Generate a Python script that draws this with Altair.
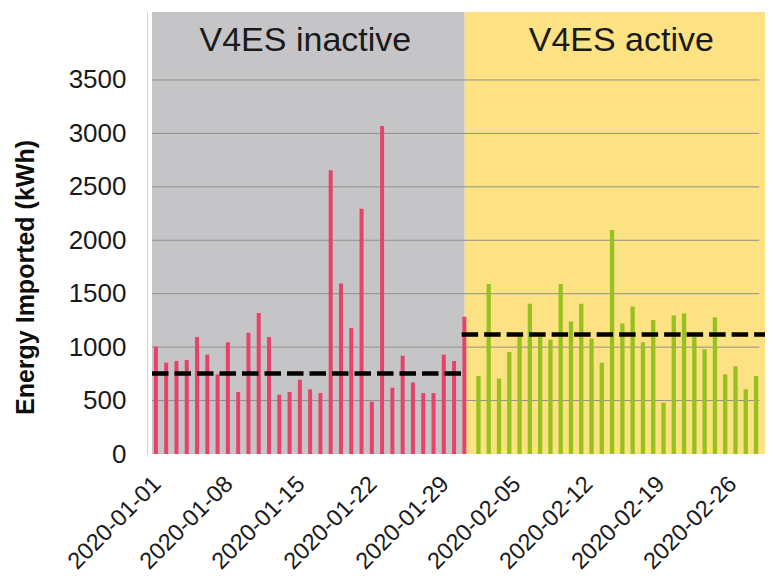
import altair as alt
import pandas as pd

# ---------------- data ----------------
dates = pd.date_range("2020-01-01", "2020-02-28", freq="D")

inactive_values = [1005, 855, 870, 880, 1095, 930, 745, 1045, 580, 1135, 1320,
                   1095, 555, 580, 695, 605, 570, 2655, 1595, 1180, 2295, 490,
                   3070, 620, 920, 670, 570, 570, 930, 870, 1285]
active_values = [730, 1590, 705, 955, 1100, 1405, 1100, 1070, 1590, 1240, 1405,
                 1080, 855, 2095, 1220, 1380, 1045, 1255, 480, 1295, 1315, 1100,
                 980, 1280, 745, 820, 605, 730]

phase_labels = ["V4ES inactive", "V4ES active"]
phase_means = [754, 1119]
bar_colors = ["#e5436a", "#96c11f"]
bg_colors = ["#c5c5c7", "#fde283"]

tick_days = [0, 7, 14, 21, 28, 35, 42, 49, 56]
tick_labels = ["2020-01-01", "2020-01-08", "2020-01-15", "2020-01-22",
               "2020-01-29", "2020-02-05", "2020-02-12", "2020-02-19",
               "2020-02-26"]
y_ticks = [0, 500, 1000, 1500, 2000, 2500, 3000, 3500]

# ---------------- layout constants ----------------
X_MIN, X_MAX = -0.565, 58.57
BG_END = 59.34
BOUNDARY = 29.85
ACTIVE_DASH_START = 29.55
GRID_END = 58.5
Y_TOP = 4136
LABEL_Y = 3767
FONT = "Liberation Sans"

n_in = len(inactive_values)
bars = pd.DataFrame({
    "day": list(range(len(dates))),
    "date": dates.strftime("%Y-%m-%d"),
    "value": inactive_values + active_values,
    "phase": [phase_labels[0]] * n_in + [phase_labels[1]] * len(active_values),
})
bars_in = bars[bars["phase"] == phase_labels[0]]
bars_act = bars[bars["phase"] == phase_labels[1]]

regions = pd.DataFrame({
    "phase": phase_labels,
    "start": [X_MIN, BOUNDARY],
    "end": [BOUNDARY, BG_END],
    "dash_start": [X_MIN, ACTIVE_DASH_START],
    "dash_end": [BOUNDARY, BG_END],
    "mean": phase_means,
})
regions["mid"] = (regions["start"] + regions["end"]) / 2
regions["label_y"] = LABEL_Y

grid = pd.DataFrame({"y": y_ticks[1:], "x": X_MIN, "x2": GRID_END})

label_expr = "''"
for d, lab in reversed(list(zip(tick_days, tick_labels))):
    label_expr = f"datum.value == {d} ? '{lab}' : ({label_expr})"

xscale = alt.Scale(domain=[X_MIN, X_MAX], nice=False, zero=False)
yscale = alt.Scale(domain=[0, Y_TOP], nice=False, zero=True)

xaxis = alt.Axis(values=tick_days, labelExpr=label_expr, labelAngle=-45,
                 labelAlign="right", labelBaseline="middle", labelOffset=-1,
                 labelPadding=26, labelFontSize=23.5, labelFont=FONT,
                 labelColor="#1a1a1a", ticks=False, domain=False, grid=False,
                 labelOverlap=False, labelBound=False, labelFlush=False,
                 title=None)
yaxis = alt.Axis(values=y_ticks, format="d", labelFontSize=26, labelFont=FONT,
                 labelColor="#1a1a1a", labelPadding=21, ticks=False,
                 domain=True, domainColor="#d0d0d0", domainWidth=1, grid=False,
                 labelOverlap=False,
                 title="Energy Imported (kWh)", titleFont=FONT,
                 titleFontSize=25, titleFontWeight="bold", titleColor="#0d0d0d",
                 titleX=-113.5, titleY=265, titleAlign="center",
                 titleBaseline="alphabetic")


def X(field):
    return alt.X(field, scale=xscale, axis=xaxis)


def Y(field):
    return alt.Y(field, scale=yscale, axis=yaxis)


bg = alt.Chart(regions).mark_rect().encode(
    x=X("start:Q"),
    x2="end:Q",
    y=alt.YDatum(Y_TOP, scale=yscale, axis=yaxis),
    y2=alt.Y2Datum(0),
    color=alt.Color("phase:N", scale=alt.Scale(domain=phase_labels, range=bg_colors), legend=None),
)

grid_layer = alt.Chart(grid).mark_rule(color="#8e8e8e", strokeWidth=1).encode(
    x=X("x:Q"),
    x2="x2:Q",
    y=Y("y:Q"),
)

bar_in = alt.Chart(bars_in).mark_bar(size=4, xOffset=-1.9, color=bar_colors[0]).encode(
    x=X("day:Q"),
    y=Y("value:Q"),
)
bar_act = alt.Chart(bars_act).mark_bar(size=4.3, xOffset=1.9, color=bar_colors[1]).encode(
    x=X("day:Q"),
    y=Y("value:Q"),
)

dash = alt.Chart(regions).mark_rule(color="black", strokeWidth=4.5,
                                    strokeDash=[16.5, 6], strokeCap="butt").encode(
    x=X("dash_start:Q"),
    x2="dash_end:Q",
    y=Y("mean:Q"),
)


def region_label(phase, dx):
    return alt.Chart(regions).transform_filter(
        alt.datum.phase == phase
    ).mark_text(fontSize=34, font=FONT, color="#1a1a1a", dx=dx,
                baseline="alphabetic", align="center").encode(
        x=X("mid:Q"),
        y=Y("label_y:Q"),
        text="phase:N",
    )


label_in = region_label(phase_labels[0], -3)
label_act = region_label(phase_labels[1], 5)

chart = alt.layer(bg, grid_layer, bar_in, bar_act, dash, label_in, label_act).properties(
    width=618, height=442,
    padding={"left": 139, "top": 4, "right": 0, "bottom": 121},
    autosize=alt.AutoSizeParams(type="none"),
    background="white",
).configure_view(stroke=None)

chart.save("out.html", embed_options={"renderer": "svg", "actions": False})
